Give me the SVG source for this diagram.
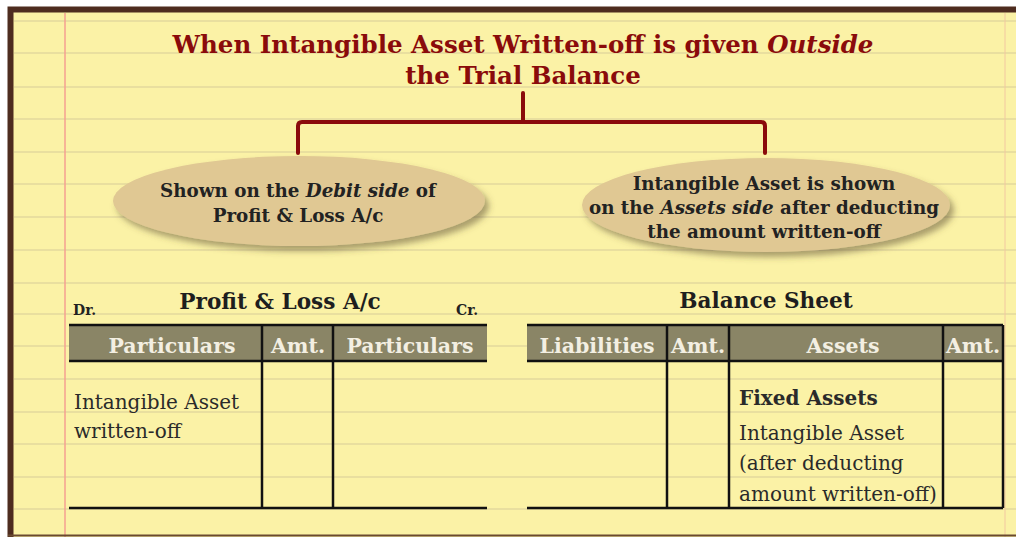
<svg xmlns="http://www.w3.org/2000/svg" width="1016" height="537" viewBox="0 0 1016 537">
<defs>
<filter id="sh" x="-10%" y="-20%" width="125%" height="150%">
<feDropShadow dx="4" dy="5" stdDeviation="3" flood-color="#5a4a30" flood-opacity="0.5"/>
</filter>
<style>
.rule{stroke:#e3d89c;stroke-width:1.5}
.title{font-family:"DejaVu Serif","Liberation Serif",serif;font-weight:bold;fill:#8a0b0b;font-size:24.5px}
.conn{fill:none;stroke:#8a0b0b;stroke-width:4;stroke-linejoin:round;stroke-linecap:round}
.oval{fill:#e0c893;filter:url(#sh)}
.otext{font-family:"DejaVu Serif","Liberation Serif",serif;font-weight:bold;fill:#222;font-size:18.3px;text-anchor:middle}
.head{font-family:"DejaVu Serif","Liberation Serif",serif;font-weight:bold;fill:#1e1e1e;font-size:21.6px;text-anchor:middle}
.small{font-family:"DejaVu Serif","Liberation Serif",serif;font-weight:bold;fill:#222;font-size:14px}
.band{fill:#8a8566}
.hdr{font-family:"DejaVu Serif","Liberation Serif",serif;font-weight:bold;fill:#f3efe2;font-size:20.5px;text-anchor:middle}
.tl{stroke:#111;stroke-width:2.5;fill:none}
.body{font-family:"DejaVu Serif","Liberation Serif",serif;fill:#2a2a2a;font-size:20px}
</style>
</defs>
<rect x="0" y="0" width="1016" height="537" fill="#ffffff"/>
<rect x="8" y="7" width="1010" height="530" fill="#fbf2a6"/>
<g id="paper-lines">
<line class="rule" x1="14" y1="21" x2="1016" y2="21"/>
<line class="rule" x1="14" y1="53" x2="1016" y2="53"/>
<line class="rule" x1="14" y1="87" x2="1016" y2="87"/>
<line class="rule" x1="14" y1="119" x2="1016" y2="119"/>
<line class="rule" x1="14" y1="152" x2="1016" y2="152"/>
<line class="rule" x1="14" y1="184" x2="1016" y2="184"/>
<line class="rule" x1="14" y1="217" x2="1016" y2="217"/>
<line class="rule" x1="14" y1="250" x2="1016" y2="250"/>
<line class="rule" x1="14" y1="283" x2="1016" y2="283"/>
<line class="rule" x1="14" y1="314" x2="1016" y2="314"/>
<line class="rule" x1="14" y1="346" x2="1016" y2="346"/>
<line class="rule" x1="14" y1="379" x2="1016" y2="379"/>
<line class="rule" x1="14" y1="412" x2="1016" y2="412"/>
<line class="rule" x1="14" y1="444" x2="1016" y2="444"/>
<line class="rule" x1="14" y1="477" x2="1016" y2="477"/>
<line class="rule" x1="14" y1="509" x2="1016" y2="509"/>
<line x1="65" y1="13" x2="65" y2="537" stroke="#f4a090" stroke-width="1.5"/>
<line x1="1005" y1="13" x2="1005" y2="537" stroke="#f2c8a0" stroke-width="1"/>
</g>
<path d="M10.5 537 V9.5 H1016" fill="none" stroke="#4e2c1f" stroke-width="6"/>
<line x1="8" y1="535.5" x2="1016" y2="535.5" stroke="#6a4a30" stroke-width="2"/>
<g id="title">
<text class="title" x="523" y="53" text-anchor="middle">When Intangible Asset Written-off is given <tspan font-style="italic">Outside</tspan></text>
<text class="title" x="523" y="84" text-anchor="middle">the Trial Balance</text>
</g>
<g id="connectors">
<path class="conn" d="M523 93 V122"/>
<path class="conn" d="M298 153 V126 Q298 122 302 122 H761 Q765 122 765 126 V153"/>
</g>
<g id="node-debit">
<ellipse class="oval" cx="299" cy="201" rx="186" ry="45"/>
<text class="otext" x="298" y="197">Shown on the <tspan font-style="italic">Debit side</tspan> of</text>
<text class="otext" x="298" y="222">Profit &amp; Loss A/c</text>
</g>
<g id="node-assets">
<ellipse class="oval" cx="766" cy="205" rx="184" ry="47"/>
<text class="otext" x="764" y="190">Intangible Asset is shown</text>
<text class="otext" x="764" y="214">on the <tspan font-style="italic">Assets side</tspan> after deducting</text>
<text class="otext" x="764" y="238">the amount written-off</text>
</g>
<g id="pl-account">
<text class="small" x="73" y="315">Dr.</text>
<text class="head" x="280" y="309">Profit &amp; Loss A/c</text>
<text class="small" x="456" y="315">Cr.</text>
<rect class="band" x="69" y="325" width="418" height="36"/>
<line class="tl" x1="69" y1="325" x2="487" y2="325"/>
<line class="tl" x1="69" y1="361" x2="487" y2="361"/>
<line class="tl" x1="262" y1="325" x2="262" y2="508"/>
<line class="tl" x1="333" y1="325" x2="333" y2="508"/>
<line class="tl" x1="69" y1="508" x2="487" y2="508"/>
<text class="hdr" x="172" y="353">Particulars</text>
<text class="hdr" x="298" y="353">Amt.</text>
<text class="hdr" x="410" y="353">Particulars</text>
<text class="body" x="74" y="409">Intangible Asset</text>
<text class="body" x="74" y="438">written-off</text>
</g>
<g id="balance-sheet">
<text class="head" x="766" y="308">Balance Sheet</text>
<rect class="band" x="527" y="325" width="476" height="36"/>
<line class="tl" x1="527" y1="325" x2="1003" y2="325"/>
<line class="tl" x1="527" y1="361" x2="1003" y2="361"/>
<line class="tl" x1="667" y1="325" x2="667" y2="508"/>
<line class="tl" x1="729" y1="325" x2="729" y2="508"/>
<line class="tl" x1="943" y1="325" x2="943" y2="508"/>
<line class="tl" x1="1003" y1="325" x2="1003" y2="508"/>
<line class="tl" x1="527" y1="508" x2="1003" y2="508"/>
<text class="hdr" x="597" y="353">Liabilities</text>
<text class="hdr" x="698" y="353">Amt.</text>
<text class="hdr" x="843" y="353">Assets</text>
<text class="hdr" x="973" y="353">Amt.</text>
<text class="body" x="739" y="405" font-weight="bold">Fixed Assets</text>
<text class="body" x="739" y="440">Intangible Asset</text>
<text class="body" x="739" y="470">(after deducting</text>
<text class="body" x="739" y="501">amount written-off)</text>
</g>
</svg>
